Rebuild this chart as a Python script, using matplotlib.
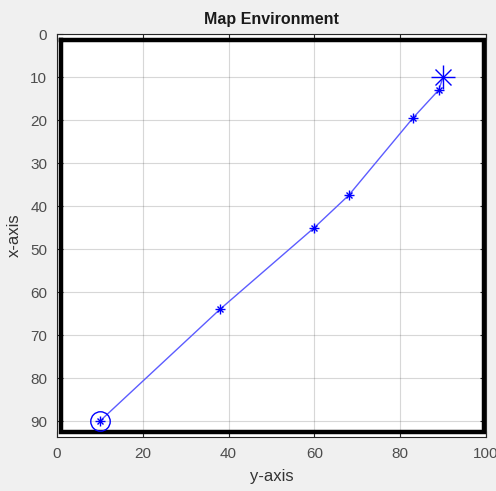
import numpy as np
import matplotlib.pyplot as plt

# path found by the planner (column, row)
path_x = [10, 38, 60, 68, 83, 89, 90]
path_y = [90, 64, 45, 37.5, 19.5, 13, 10]
start = (10, 90)
goal = (90, 10)

# map boundary wall
wall_x = [1, 99.5, 99.5, 1, 1]
wall_y = [1.5, 1.5, 92.5, 92.5, 1.5]

xticks = [0, 20, 40, 60, 80, 100]
yticks = [0, 10, 20, 30, 40, 50, 60, 70, 80, 90]

plt.rcParams['font.family'] = ['Liberation Sans', 'DejaVu Sans']
fig = plt.figure(figsize=(4.96, 4.91), dpi=100, facecolor='#f0f0f0')
ax = fig.add_axes([57/496, 1 - 437/491, (486-57)/496, (437-34)/491])

ax.plot(wall_x, wall_y, color='black', lw=3.2, solid_joinstyle='miter', zorder=2)
ax.plot(path_x, path_y, color='#5c5cff', lw=1.0, zorder=3)
ax.plot(path_x[1:-1], path_y[1:-1], ls='none', marker='+', ms=6.5, mew=1.0, color='blue', zorder=4)
ax.plot(path_x[1:-1], path_y[1:-1], ls='none', marker='x', ms=4.6, mew=1.0, color='blue', zorder=4)
ax.plot(*start, marker='+', ms=6.5, mew=1.0, color='blue', zorder=4)
ax.plot(*start, marker='x', ms=4.6, mew=1.0, color='blue', zorder=4)
ax.plot(*start, marker='o', ms=14, mfc='none', mec='blue', mew=1.0, zorder=4)
ax.plot(*goal, marker='+', ms=17, mew=1.0, color='blue', zorder=4)
ax.plot(*goal, marker='x', ms=12, mew=1.0, color='blue', zorder=4)

ax.set_xlim(0, 100)
ax.set_ylim(93.7, 0)
ax.set_xticks(xticks)
ax.set_yticks(yticks)
ax.grid(True, color='#262626', alpha=0.18, lw=0.8)
ax.set_axisbelow(True)
ax.tick_params(direction='in', top=True, right=True, colors='#262626',
               labelcolor='#4d4d4d', labelsize=11, length=4, width=0.8, pad=7)
for s in ax.spines.values():
    s.set_color('#262626')
    s.set_linewidth(0.8)

ax.set_title('Map Environment', fontsize=11.5, fontweight='bold', color='#1a1a1a', pad=7)
ax.set_xlabel('y-axis', fontsize=12, color='#333333', labelpad=6)
ax.set_ylabel('x-axis', fontsize=12, color='#333333', labelpad=6)

fig.savefig('out.png', dpi=100, facecolor=fig.get_facecolor())
